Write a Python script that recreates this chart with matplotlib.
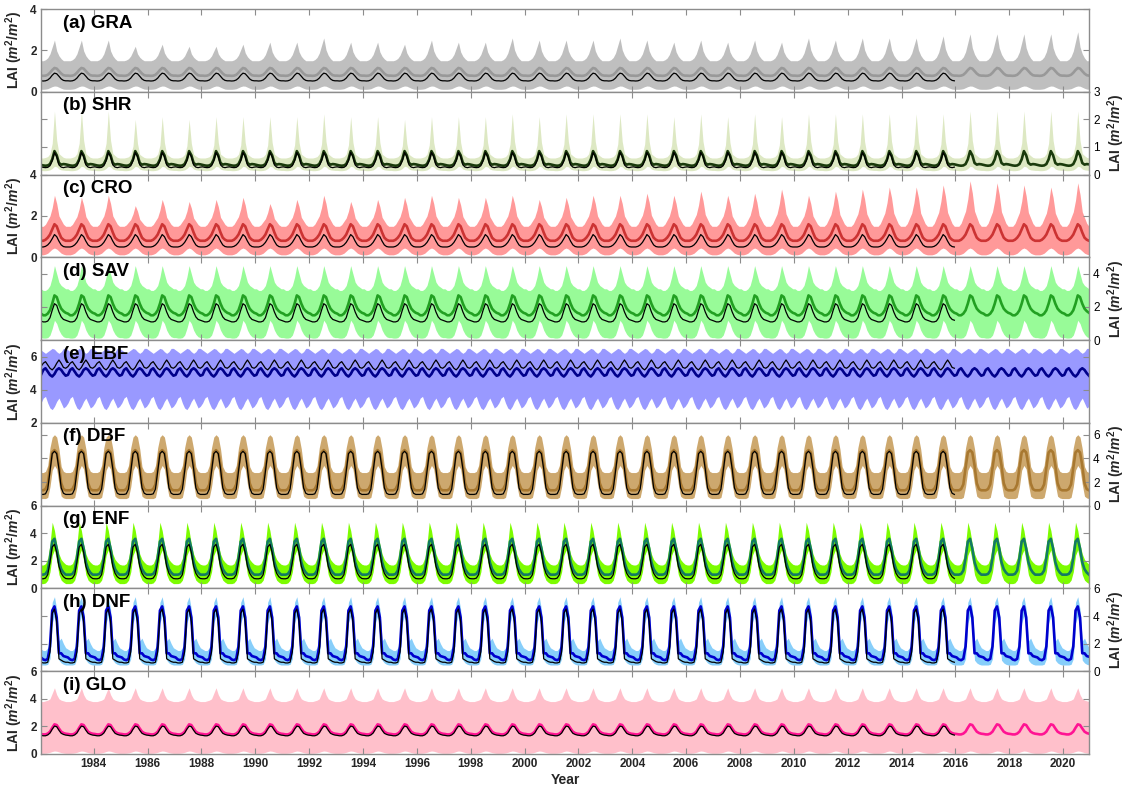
import numpy as np
import matplotlib
matplotlib.use("Agg")
import matplotlib.pyplot as plt

plt.rcParams['font.family'] = ['Liberation Sans', 'DejaVu Sans']
plt.rcParams['mathtext.fontset'] = 'custom'
plt.rcParams['mathtext.it'] = 'Liberation Sans:italic:bold'
plt.rcParams['mathtext.rm'] = 'Liberation Sans:bold'

# ---------------- data (monthly climatology Jan..Dec) -------------
years = list(range(1982, 2021))
obs_end_year = 2016  # black line (reference product) ends here

panel_names = ["(a) GRA", "(b) SHR", "(c) CRO", "(d) SAV", "(e) EBF",
               "(f) DBF", "(g) ENF", "(h) DNF", "(i) GLO"]

gra_upper = [1.5, 1.5, 1.55, 1.65, 1.85, 2.2, 2.55, 2.0, 1.75, 1.6, 1.5, 1.5]
gra_lower = [0.12, 0.12, 0.13, 0.15, 0.2, 0.25, 0.28, 0.27, 0.22, 0.17, 0.13, 0.12]
gra_mean = [0.78, 0.77, 0.78, 0.82, 0.92, 1.05, 1.15, 1.12, 1.0, 0.88, 0.8, 0.78]
gra_black = [0.53, 0.52, 0.53, 0.57, 0.66, 0.8, 0.9, 0.87, 0.75, 0.62, 0.55, 0.53]
# yearly maximum of the GRA upper envelope, 1982..2020
gra_upper_peak = [2.5, 2.5, 2.5, 2.2, 2.3, 2.2, 2.2, 2.3, 2.4, 2.4, 2.6, 2.4, 2.4,
                  2.3, 2.5, 2.4, 2.4, 2.6, 2.5, 2.5, 2.5, 2.6, 2.5, 2.4, 2.5, 2.4,
                  2.5, 2.4, 2.6, 2.5, 2.6, 2.6, 2.6, 2.7, 2.8, 2.8, 2.8, 2.8, 2.9]

shr_upper = [0.6, 0.6, 0.62, 0.65, 0.75, 1.1, 2.2, 1.2, 0.75, 0.68, 0.62, 0.6]
shr_lower = [0.15, 0.14, 0.14, 0.15, 0.17, 0.22, 0.3, 0.28, 0.2, 0.17, 0.16, 0.15]
shr_mean = [0.35, 0.33, 0.32, 0.33, 0.38, 0.55, 0.85, 0.7, 0.42, 0.36, 0.38, 0.37]
shr_black = [0.28, 0.26, 0.25, 0.26, 0.32, 0.5, 0.8, 0.65, 0.35, 0.27, 0.25, 0.27]
shr_upper_peak = [2.3, 2.3, 2.3, 2.0, 2.1, 2.0, 2.1, 2.1, 2.1, 2.1, 2.2, 2.1, 2.1,
                  2.0, 2.1, 2.1, 2.1, 2.2, 2.1, 2.2, 2.2, 2.2, 2.2, 2.1, 2.2, 2.1,
                  2.2, 2.1, 2.2, 2.2, 2.2, 2.2, 2.2, 2.2, 2.3, 2.3, 2.3, 2.3, 2.3]

cro_upper = [1.5, 1.5, 1.6, 1.8, 2.0, 2.4, 3.0, 2.6, 2.0, 1.8, 1.6, 1.5]
cro_lower = [0.12, 0.12, 0.15, 0.2, 0.3, 0.4, 0.45, 0.4, 0.3, 0.2, 0.15, 0.12]
cro_mean = [0.8, 0.8, 0.85, 0.95, 1.1, 1.35, 1.6, 1.5, 1.2, 0.95, 0.85, 0.8]
cro_black = [0.5, 0.5, 0.53, 0.6, 0.72, 0.9, 1.1, 1.0, 0.78, 0.6, 0.52, 0.5]
cro_upper_peak = [3.0, 2.9, 3.0, 2.5, 2.8, 2.7, 2.8, 2.9, 2.6, 2.8, 3.0, 2.7, 2.8,
                  2.9, 3.0, 2.9, 2.9, 3.0, 2.8, 2.9, 3.0, 3.0, 3.1, 3.0, 3.2, 3.0,
                  3.1, 3.3, 3.0, 3.2, 3.3, 3.4, 3.4, 3.5, 3.7, 3.6, 3.5, 3.4, 3.6]

sav_upper = [3.1, 3.0, 3.0, 3.1, 3.3, 3.8, 4.5, 4.0, 3.5, 3.3, 3.2, 3.1]
sav_lower = [0.15, 0.12, 0.12, 0.15, 0.3, 0.7, 1.2, 1.0, 0.6, 0.35, 0.2, 0.15]
sav_mean = [1.6, 1.5, 1.5, 1.6, 1.8, 2.2, 2.7, 2.6, 2.2, 1.9, 1.75, 1.65]
sav_black = [1.15, 1.1, 1.1, 1.15, 1.35, 1.8, 2.2, 2.1, 1.7, 1.4, 1.25, 1.2]

ebf_upper = [6.4, 6.3, 6.2, 6.3, 6.4, 6.5, 6.45, 6.3, 6.2, 6.3, 6.5, 6.5]
ebf_lower = [3.2, 3.5, 3.6, 3.2, 2.9, 2.8, 3.0, 3.3, 3.5, 3.2, 2.9, 3.0]
ebf_mean = [4.9, 5.2, 5.3, 5.1, 4.9, 4.8, 4.95, 5.2, 5.3, 5.2, 5.0, 4.85]
ebf_black = [5.4, 5.6, 5.7, 5.5, 5.3, 5.2, 5.35, 5.6, 5.8, 5.6, 5.35, 5.3]

dbf_upper = [2.8, 2.8, 2.9, 3.4, 4.9, 5.8, 6.0, 5.8, 4.8, 3.3, 2.9, 2.8]
dbf_lower = [0.6, 0.6, 0.6, 0.7, 1.6, 3.0, 3.4, 3.1, 1.8, 0.8, 0.65, 0.6]
dbf_mean = [1.3, 1.3, 1.4, 1.8, 3.2, 4.5, 4.7, 4.5, 3.4, 1.9, 1.4, 1.3]
dbf_black = [0.95, 0.95, 1.0, 1.4, 2.9, 4.4, 4.6, 4.4, 3.1, 1.5, 1.05, 0.95]

enf_upper = [1.7, 1.7, 1.8, 2.2, 3.2, 4.8, 4.2, 3.2, 2.5, 2.1, 1.9, 1.75]
enf_lower = [0.35, 0.35, 0.4, 0.6, 1.2, 2.4, 2.8, 2.0, 1.0, 0.6, 0.45, 0.35]
enf_mean = [1.0, 1.0, 1.05, 1.3, 2.2, 3.4, 3.6, 2.9, 1.9, 1.4, 1.15, 1.0]
enf_black = [0.7, 0.7, 0.75, 1.0, 1.9, 3.0, 3.2, 2.6, 1.6, 1.1, 0.85, 0.72]

dnf_upper = [1.6, 1.5, 1.5, 1.7, 2.8, 5.0, 5.4, 4.5, 2.2, 2.4, 2.0, 1.7]
dnf_lower = [0.45, 0.45, 0.45, 0.5, 0.9, 3.5, 4.0, 3.0, 0.8, 0.6, 0.5, 0.45]
dnf_mean = [1.0, 0.85, 0.8, 0.9, 1.8, 4.4, 4.7, 3.9, 1.3, 1.3, 1.1, 1.05]
dnf_black = [0.65, 0.6, 0.6, 0.65, 1.4, 4.2, 4.5, 3.6, 0.9, 0.8, 0.7, 0.65]

glo_upper = [3.8, 3.8, 3.85, 3.9, 4.0, 4.4, 4.8, 4.3, 4.0, 3.9, 3.85, 3.8]
glo_lower = [0.05, 0.05, 0.06, 0.08, 0.12, 0.18, 0.22, 0.2, 0.15, 0.1, 0.07, 0.05]
glo_mean = [1.45, 1.42, 1.42, 1.48, 1.62, 1.9, 2.15, 2.1, 1.85, 1.62, 1.52, 1.47]
glo_black = [1.35, 1.32, 1.32, 1.38, 1.52, 1.8, 2.02, 1.98, 1.72, 1.5, 1.42, 1.37]

ylims = [(0, 4), (0, 3), (0, 4), (0, 5), (2, 7), (0, 7), (0, 6), (0, 6), (0, 6)]
yticks = [[0, 2, 4], [0, 1, 2, 3], [0, 2, 4], [0, 2, 4], [2, 4, 6],
          [0, 2, 4, 6], [0, 2, 4, 6], [0, 2, 4, 6], [0, 2, 4, 6]]
xtick_years = list(range(1984, 2021, 2))

# ---------------- styling ----------------
band_colors = ["#bfbfbf", "#dde8c3", "#ff9999", "#98fb98", "#9999ff",
               "#cda86e", "#7cfc00", "#87cefa", "#ffc0cb"]
mean_colors = ["#999999", "#1a3a0c", "#cc3333", "#22a022", "#00008b",
               "#a87830", "#127a64", "#0000cd", "#ff1493"]

series = [
    (gra_upper, gra_lower, gra_mean, gra_black, gra_upper_peak),
    (shr_upper, shr_lower, shr_mean, shr_black, shr_upper_peak),
    (cro_upper, cro_lower, cro_mean, cro_black, cro_upper_peak),
    (sav_upper, sav_lower, sav_mean, sav_black, None),
    (ebf_upper, ebf_lower, ebf_mean, ebf_black, None),
    (dbf_upper, dbf_lower, dbf_mean, dbf_black, None),
    (enf_upper, enf_lower, enf_mean, enf_black, None),
    (dnf_upper, dnf_lower, dnf_mean, dnf_black, None),
    (glo_upper, glo_lower, glo_mean, glo_black, None),
]

n_years = len(years)
t = np.array([y + (m + 0.5) / 12.0 for y in years for m in range(12)])
obs_mask = t < obs_end_year


def upper_envelope(clim, peaks):
    clim = np.asarray(clim, float)
    if peaks is None:
        return np.tile(clim, n_years)
    base = clim.min()
    rows = [base + (clim - base) * (p - base) / (clim.max() - base) for p in peaks]
    return np.concatenate(rows)


fig = plt.figure(figsize=(11.27, 7.92), dpi=100)
left, right = 41 / 1127, 1089 / 1127
top, bottom = 1 - 9 / 792, 1 - 754 / 792
h = (top - bottom) / 9
spine_col = "#8c8c8c"

for i, (up, lo, mn, bk, pk) in enumerate(series):
    ax = fig.add_axes([left, top - (i + 1) * h, right - left, h])
    up_t = upper_envelope(up, pk)
    lo_t = np.tile(lo, n_years)
    mn_t = np.tile(mn, n_years)
    bk_t = np.tile(bk, n_years)
    ax.fill_between(t, lo_t, up_t, color=band_colors[i], lw=0)
    ax.plot(t, mn_t, color=mean_colors[i], lw=1.9)
    ax.plot(t[obs_mask], bk_t[obs_mask], color="black", lw=0.9)
    ax.set_xlim(t[0], t[-1])
    ax.set_ylim(*ylims[i])
    ax.set_yticks(yticks[i])
    ax.set_xticks(xtick_years)
    ax.tick_params(direction="in", length=4, width=0.8, color=spine_col,
                   top=True, bottom=True, left=True, right=True,
                   labelsize=8.5, pad=3)
    for s in ax.spines.values():
        s.set_color(spine_col)
        s.set_linewidth(1.0)
    for lab in ax.get_xticklabels() + ax.get_yticklabels():
        lab.set_fontweight("bold")
        lab.set_color("#262626")
    if i % 2 == 1:
        ax.yaxis.set_label_position("right")
        ax.tick_params(labelleft=False, labelright=True)
    else:
        ax.tick_params(labelleft=True, labelright=False)
    ax.set_ylabel(r"LAI ($m^2/m^2$)", fontsize=10, fontweight="bold",
                  color="#262626", labelpad=4)
    if i < 8:
        ax.tick_params(labelbottom=False)
    else:
        ax.set_xlabel("Year", fontsize=10, fontweight="bold", color="#262626",
                      labelpad=2)
    ax.text(0.021, 0.83, panel_names[i], transform=ax.transAxes,
            fontsize=13.5, fontweight="bold", va="center", ha="left", color="black")

fig.savefig("out.png", dpi=100)
